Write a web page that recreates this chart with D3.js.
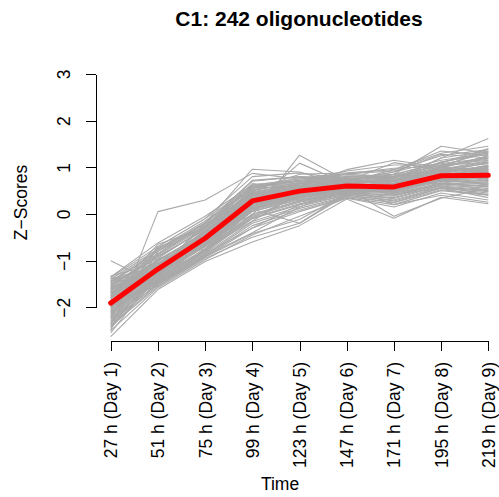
<!DOCTYPE html>
<html>
<head>
<meta charset="utf-8">
<script src="https://cdn.jsdelivr.net/npm/d3@7"></script>
<style>
  html, body { margin:0; padding:0; background:#ffffff; }
  svg text { font-family: "Liberation Sans", Arial, Helvetica, sans-serif; fill:#000000; }
</style>
</head>
<body>
<svg id="chart" width="499" height="497"></svg>
<script>

// --------------------------------
// data
// --------------------------------

var timeLabels = ["27 h (Day 1)","51 h (Day 2)","75 h (Day 3)","99 h (Day 4)","123 h (Day 5)",
                  "147 h (Day 6)","171 h (Day 7)","195 h (Day 8)","219 h (Day 9)"];

var yTicks = [-2,-1,0,1,2,3];

// mean profile of the cluster (red)
var meanProfile = [-1.91,-1.18,-0.52,0.28,0.49,0.60,0.58,0.82,0.83];

// a set of the member profiles (grey)
var memberProfiles = [
	[-1.35,-0.62,-0.05,0.62,0.75,0.82,0.80,1.05,1.10],
	[-1.40,-0.75,-0.15,0.55,0.70,0.78,0.72,0.98,1.25],
	[-1.45,-0.85,-0.25,0.48,0.62,0.70,0.85,1.10,1.40],
	[-1.50,-0.95,-0.30,0.45,0.66,0.74,0.68,0.92,0.95],
	[-1.55,-0.90,-0.35,0.40,0.58,0.66,0.60,0.88,1.02],
	[-1.60,-1.00,-0.40,0.38,0.55,0.65,0.70,0.95,0.88],
	[-1.65,-1.05,-0.45,0.35,0.52,0.62,0.55,0.85,0.80],
	[-1.70,-1.10,-0.48,0.30,0.50,0.60,0.62,0.80,0.90],
	[-1.75,-1.12,-0.50,0.27,0.48,0.58,0.50,0.78,0.75],
	[-1.80,-1.15,-0.55,0.22,0.45,0.55,0.58,0.82,0.85],
	[-1.85,-1.20,-0.58,0.20,0.42,0.57,0.65,0.90,0.70],
	[-1.90,-1.22,-0.60,0.18,0.40,0.52,0.48,0.72,0.78],
	[-1.95,-1.25,-0.62,0.15,0.38,0.55,0.56,0.76,0.95],
	[-2.00,-1.28,-0.65,0.12,0.36,0.50,0.45,0.70,0.68],
	[-2.05,-1.30,-0.68,0.10,0.35,0.48,0.52,0.75,0.62],
	[-2.10,-1.32,-0.70,0.05,0.32,0.46,0.40,0.68,0.72],
	[-2.15,-1.35,-0.75,0.00,0.28,0.44,0.38,0.65,0.58],
	[-2.20,-1.40,-0.78,-0.05,0.25,0.42,0.35,0.62,0.55],
	[-2.25,-1.45,-0.82,-0.10,0.20,0.40,0.30,0.58,0.50],
	[-2.30,-1.50,-0.88,-0.20,0.12,0.38,0.25,0.55,0.45],
	[-2.40,-1.55,-0.92,-0.30,0.05,0.35,0.20,0.50,0.40],
	[-2.50,-1.58,-0.98,-0.45,-0.05,0.34,0.15,0.45,0.30],
	[-2.63,-1.62,-1.02,-0.60,-0.25,0.32,-0.09,0.36,0.22],
	[-1.38,-1.30,-0.70,0.50,0.85,0.88,0.95,1.30,1.45],
	[-2.35,-0.80,-0.20,0.70,0.80,0.70,0.75,1.20,1.35],
	[-1.42,-1.45,-0.85,0.10,0.60,0.72,0.90,1.15,1.30],
	[-2.20,-0.70,-0.10,0.80,0.88,0.75,0.60,0.70,0.50],
	[-1.60,-1.50,-0.90,-0.40,0.15,0.50,0.78,1.00,1.20],
	[-1.75,-0.65,-0.30,0.58,0.70,0.92,1.05,1.05,1.15],
	[-2.45,-1.35,-0.55,0.40,0.30,0.45,0.70,1.00,0.95],
	[-1.50,-1.20,-0.20,0.65,0.55,0.60,0.42,0.55,0.35],
	[-2.05,-0.95,-0.75,-0.15,0.45,0.80,0.85,0.90,1.10],
	[-1.85,-1.55,-0.95,-0.50,-0.20,0.40,0.55,0.85,1.05],
	[-1.33,-1.05,-0.60,0.30,0.40,0.68,0.95,1.35,1.25],
	[-2.55,-1.25,-0.35,0.45,0.55,0.50,0.65,0.65,0.60],
	[-1.00,-1.50,-0.80,0.40,0.65,0.70,1.10,0.95,1.00],
	[-2.50,0.05,0.30,0.87,0.75,0.85,0.80,0.95,0.90],
	[-1.70,-1.00,-0.45,-0.03,1.26,0.71,0.70,1.20,1.62],
	[-1.90,-1.10,-0.35,0.20,1.09,0.65,0.85,1.45,1.30],
	[-1.55,-0.85,-0.20,0.96,0.90,0.60,0.20,0.40,0.25],
	[-2.10,-1.40,-0.65,0.35,0.55,0.55,-0.05,0.34,0.55],
	[-2.00,-1.20,-0.50,0.10,-0.20,0.45,0.60,0.75,0.80],
	[-1.80,-1.00,-0.40,0.55,0.60,0.95,1.15,1.00,1.40],
	[-1.88,-1.16,-0.52,0.30,0.50,0.62,0.60,0.85,0.85],
	[-1.92,-1.19,-0.54,0.26,0.47,0.59,0.57,0.80,0.82],
	[-1.70,-1.02,-0.38,0.42,0.60,0.68,0.66,0.92,0.98],
	[-2.12,-1.34,-0.66,0.14,0.38,0.52,0.50,0.74,0.70],
	[-1.62,-0.98,-0.42,0.36,0.54,0.64,0.74,0.96,1.08],
	[-2.28,-1.42,-0.74,0.06,0.30,0.47,0.44,0.66,0.64],
	[-1.48,-0.80,-0.28,0.50,0.68,0.76,0.76,1.02,1.18],
	[-1.36,-0.70,-0.10,0.58,0.72,0.80,0.78,1.08,1.20],
	[-1.44,-0.78,-0.18,0.52,0.66,0.76,0.82,1.04,1.32],
	[-1.52,-0.88,-0.28,0.46,0.64,0.72,0.64,0.90,0.98],
	[-1.58,-0.92,-0.32,0.44,0.60,0.70,0.72,0.94,1.12],
	[-1.64,-1.00,-0.40,0.40,0.56,0.66,0.62,0.86,0.92],
	[-1.68,-1.06,-0.44,0.34,0.53,0.63,0.58,0.84,0.96],
	[-1.74,-1.08,-0.46,0.32,0.52,0.61,0.64,0.83,0.78],
	[-1.78,-1.13,-0.53,0.24,0.46,0.58,0.54,0.80,0.88],
	[-1.82,-1.18,-0.56,0.22,0.44,0.56,0.60,0.86,0.74],
	[-1.87,-1.21,-0.59,0.19,0.41,0.55,0.51,0.77,0.80],
	[-1.97,-1.26,-0.63,0.16,0.39,0.53,0.55,0.78,0.90],
	[-2.02,-1.29,-0.66,0.11,0.36,0.51,0.47,0.72,0.66],
	[-2.08,-1.31,-0.69,0.08,0.34,0.49,0.50,0.73,0.76],
	[-2.18,-1.37,-0.76,-0.02,0.27,0.45,0.41,0.64,0.60],
	[-2.23,-1.43,-0.80,-0.08,0.22,0.43,0.33,0.60,0.52],
	[-2.33,-1.48,-0.85,-0.16,0.16,0.40,0.28,0.56,0.48],
	[-2.38,-1.52,-0.90,-0.25,0.08,0.37,0.24,0.52,0.42],
	[-1.40,-1.10,-0.48,0.55,0.78,0.86,0.92,1.25,1.38],
	[-2.15,-0.85,-0.25,0.62,0.72,0.66,0.70,1.12,1.28],
	[-1.55,-1.40,-0.78,0.18,0.56,0.70,0.84,1.10,1.34],
	[-2.00,-0.75,-0.22,0.72,0.80,0.72,0.64,0.76,0.62],
	[-1.66,-1.46,-0.86,-0.30,0.20,0.52,0.70,0.96,1.14],
	[-1.80,-0.72,-0.28,0.60,0.66,0.86,0.98,1.02,1.22],
	[-2.35,-1.30,-0.50,0.44,0.38,0.50,0.66,0.96,0.92],
	[-1.58,-1.16,-0.26,0.60,0.52,0.62,0.46,0.60,0.40],
	[-1.96,-0.98,-0.70,-0.08,0.42,0.74,0.80,0.88,1.04],
	[-1.92,-1.50,-0.92,-0.42,-0.12,0.44,0.52,0.82,1.00],
	[-1.45,-1.08,-0.58,0.34,0.44,0.70,0.90,1.28,1.20],
	[-2.42,-1.22,-0.40,0.42,0.52,0.52,0.62,0.70,0.66],
	[-1.72,-1.24,-0.62,0.24,0.52,0.58,0.60,0.88,1.02]
];

var chartTitle = "C1: 242 oligonucleotides";
var xTitle = "Time";
var yTitle = "Z\u2212Scores";

// --------------------------------
// scales
// --------------------------------

var svg = d3.select("#chart");

var x = d3.scaleLinear().domain([1,9]).range([110.7,488.3]);
var y = d3.scaleLinear().domain([-2,3]).range([307.3,74]);

var line = d3.line()
	.x(function(d,i){ return x(i+1); })
	.y(function(d){ return y(d); });

// --------------------------------
// grey member profiles, then the mean on top
// --------------------------------

svg.append("g")
	.selectAll("path")
	.data(memberProfiles)
	.join("path")
	.attr("d", line)
	.attr("style","fill:none;stroke:#a9a9a9;stroke-width:1.1;stroke-linejoin:round;");

svg.append("path")
	.attr("d", line(meanProfile))
	.attr("style","fill:none;stroke:#ff0000;stroke-width:5;stroke-linejoin:round;stroke-linecap:round;");

// --------------------------------
// axes (R style, no box)
// --------------------------------

var gy = svg.append("g")
	.attr("transform","translate(96,0)")
	.call(d3.axisLeft(y).tickValues(yTicks).tickSize(10).tickSizeOuter(0).tickPadding(0)
		.tickFormat(function(d){ return d < 0 ? "\u2212"+Math.abs(d) : d; }));
gy.select(".domain").attr("stroke","#000000");
gy.selectAll(".tick line").attr("stroke","#000000");
gy.selectAll(".tick text")
	.attr("x",0).attr("dy",null)
	.attr("text-anchor","middle")
	.attr("transform","translate(-26,0) rotate(-90)")
	.attr("style","font-size:17.5px;fill:#000000;");

var gx = svg.append("g")
	.attr("transform","translate(0,340.5)")
	.call(d3.axisBottom(x).tickValues(d3.range(1,10)).tickSize(10).tickSizeOuter(0)
		.tickFormat(function(d){ return timeLabels[d-1]; }));
gx.select(".domain").attr("stroke","#000000");
gx.selectAll(".tick line").attr("stroke","#000000");
gx.selectAll(".tick text")
	.attr("x",0).attr("y",0).attr("dy",null)
	.attr("text-anchor","end")
	.attr("transform","translate(6,21.5) rotate(-90)")
	.attr("style","font-size:17.5px;fill:#000000;");

svg.selectAll(".domain, .tick line").attr("shape-rendering","crispEdges");

// --------------------------------
// titles
// --------------------------------

svg.append("text")
	.attr("x",299).attr("y",26)
	.attr("text-anchor","middle")
	.attr("style","font-size:21px;font-weight:bold;")
	.text(chartTitle);

svg.append("text")
	.attr("x",280).attr("y",490)
	.attr("text-anchor","middle")
	.attr("style","font-size:17.5px;")
	.text(xTitle);

svg.append("text")
	.attr("transform","translate(27,202.5) rotate(-90)")
	.attr("text-anchor","middle")
	.attr("style","font-size:17.5px;")
	.text(yTitle);

</script>
</body>
</html>
